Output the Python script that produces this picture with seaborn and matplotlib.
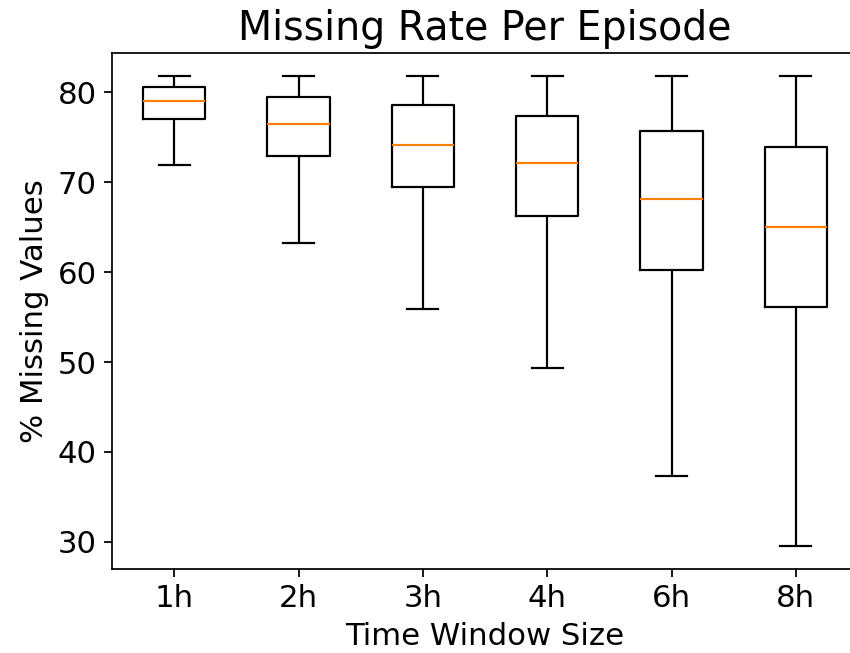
import numpy as np
import pandas as pd
import seaborn as sns
import matplotlib
matplotlib.use("Agg")
import matplotlib.pyplot as plt

# Box statistics (% missing values)
windows = ["1h", "2h", "3h", "4h", "6h", "8h"]
whisker_low = [71.95, 63.19, 55.94, 49.32, 37.28, 29.59]
q1 = [77.05, 72.92, 69.43, 66.23, 60.25, 56.09]
median = [79.00, 76.45, 74.18, 72.10, 68.13, 65.04]
q3 = [80.58, 79.46, 78.53, 77.38, 75.67, 73.89]
whisker_high = [81.76, 81.76, 81.76, 81.76, 81.76, 81.76]

# Five points per window reproduce these quartiles exactly
rows = []
for i, w in enumerate(windows):
    for v in (whisker_low[i], q1[i], median[i], q3[i], whisker_high[i]):
        rows.append({"window": w, "missing": v})
df = pd.DataFrame(rows)

dpi = 158
plt.rcParams["font.family"] = ["DejaVu Sans"]
fig = plt.figure(figsize=(850 / dpi, 653 / dpi), dpi=dpi)
# axes run past the right edge of the figure, as in the cropped original
ax = fig.add_axes([112 / 850, 84 / 653, 746 / 850, 516 / 653])

sns.boxplot(data=df, x="window", y="missing", order=windows, ax=ax,
            fill=False, color="black", width=0.5, whis=(0, 100),
            linewidth=1.0, medianprops={"color": "#ff7f0e"})

ax.set_xlim(-0.5, len(windows) - 0.5)
ax.spines["right"].set_visible(False)  # cut off in the original
ax.set_title("Missing Rate Per Episode", fontsize=18)
ax.set_xlabel("Time Window Size", fontsize=14)
ax.set_ylabel("% Missing Values", fontsize=14)
ax.tick_params(labelsize=14)
ax.set_yticks([30, 40, 50, 60, 70, 80])

fig.savefig("out.png", dpi=dpi)
plt.close(fig)
